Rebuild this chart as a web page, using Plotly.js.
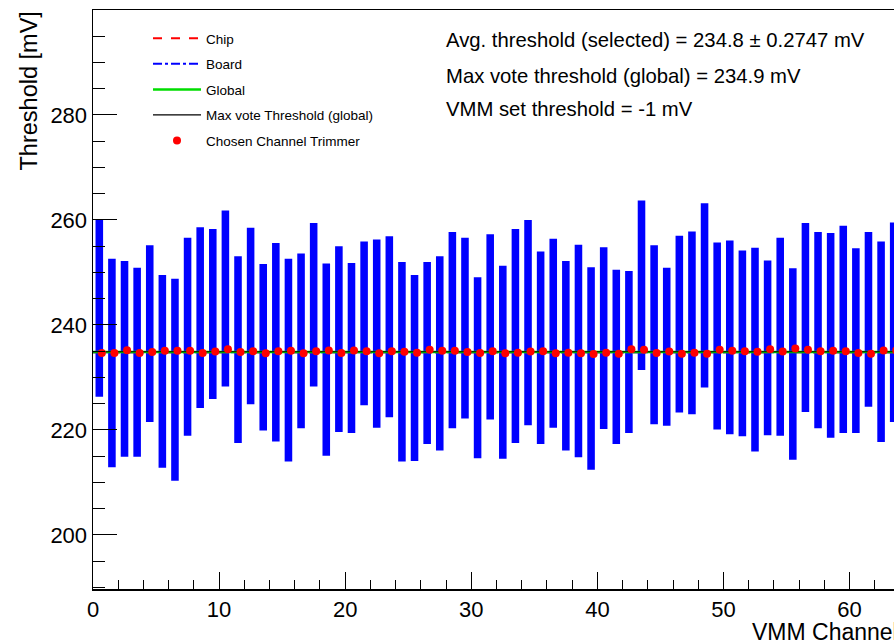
<!DOCTYPE html>
<html>
<head>
<meta charset="utf-8">
<script src="https://cdn.plot.ly/plotly-3.0.1.min.js"></script>
<style>
html, body { margin: 0; padding: 0; overflow: hidden; background: #fff; width: 894px; height: 642px; }
#chart { width: 910px; height: 642px; }
</style>
</head>
<body>
<div id="chart"></div>
<script>
// Channel numbers
const channels = Array.from({length: 64}, (_, i) => i);
// Per-channel threshold range (blue bars), mV
const rangeLow = [226.3,212.9,214.9,214.9,221.5,212.8,210.3,218.9,224.2,225.9,
  228.3,217.5,224.9,219.9,217.8,214.0,220.3,228.3,215.1,219.6,
  219.4,224.7,220.4,222.4,214.0,214.1,217.3,216.1,220.3,222.2,
  214.6,222.0,214.5,217.5,220.9,217.3,220.4,216.1,214.8,212.4,
  220.2,217.3,219.4,231.4,221.1,220.8,223.3,223.0,228.1,220.1,
  219.2,218.8,215.9,219.0,218.9,214.3,223.4,220.3,218.5,219.4,
  219.4,224.4,217.7,221.5];
const rangeHigh = [260.2,252.6,252.2,250.9,255.2,249.5,248.8,256.6,258.6,258.3,
  261.8,253.1,258.5,251.6,255.6,252.6,253.6,259.4,251.7,255.0,
  251.8,255.9,256.3,256.9,252.0,249.5,252.0,253.1,257.7,256.6,
  249.1,257.3,251.3,258.3,260.0,254.0,256.4,252.2,255.3,251.0,
  254.8,250.5,250.3,263.7,255.2,250.9,257.0,257.8,263.2,255.7,
  256.1,254.2,254.7,252.3,256.6,250.8,259.4,257.7,257.5,258.9,
  254.6,257.7,255.9,259.5];
// Chosen channel trimmer threshold, mV
const trimmer = [234.65,234.65,235.2,234.65,234.84,235.1,235.1,235.1,234.65,234.95,
  235.35,234.85,235.0,234.6,235.0,235.1,234.6,235.0,235.15,234.65,
  235.15,235.0,234.6,235.0,234.9,234.7,235.3,235.1,235.1,234.85,
  234.65,235.0,234.6,234.7,234.95,235.0,234.6,234.7,234.6,234.45,
  234.7,234.5,235.35,235.3,234.65,234.95,234.5,234.7,234.5,235.3,
  235.1,235.0,234.9,235.35,234.95,235.5,235.3,235.0,235.1,235.0,
  234.65,234.5,235.15,235.15];
// Reference levels, mV
const chipLevel = 234.8;
const boardLevel = 234.8;
const globalLevel = 234.86;
const maxVoteLevel = 234.9;
const xSpan = [0, 64];
const infoLines = [
  "Avg. threshold (selected) = 234.8 \u00b1 0.2747 mV",
  "Max vote threshold (global) = 234.9 mV",
  "VMM set threshold = -1 mV"
];

const FONT = '"Liberation Sans", Arial, Helvetica, sans-serif';

const barX = channels.map(c => c + 0.5);
const dotX = channels.map(c => c + 0.7);

const traces = [
  {
    type: 'bar', x: barX, base: rangeLow,
    y: rangeHigh.map((h, i) => h - rangeLow[i]),
    width: 0.6, marker: {color: '#0000ff', line: {width: 0}},
    showlegend: false, hoverinfo: 'skip'
  },
  {type: 'scatter', mode: 'lines', name: 'Chip', x: xSpan, y: [chipLevel, chipLevel],
   line: {color: '#ff0000', width: 2, dash: 'dash'}, legendgroup: 'a'},
  {type: 'scatter', mode: 'lines', name: 'Board', x: xSpan, y: [boardLevel, boardLevel],
   line: {color: '#0000ff', width: 2, dash: 'dashdot'}, legendgroup: 'b'},
  {type: 'scatter', mode: 'lines', name: 'Global', x: xSpan, y: [globalLevel, globalLevel],
   line: {color: '#00dd00', width: 2.5}, legendgroup: 'c'},
  {type: 'scatter', mode: 'lines', name: 'Max vote Threshold (global)', x: xSpan, y: [maxVoteLevel, maxVoteLevel],
   line: {color: '#000000', width: 1.2}, legendgroup: 'd'},
  {type: 'scatter', mode: 'markers', name: 'Chosen Channel Trimmer', x: dotX, y: trimmer,
   marker: {color: '#ff0000', size: 8}, legendgroup: 'e'}
];

const plotLeft = 93, plotTop = 10, plotBottom = 589, plotW = 807, plotH = 579;

const annotations = infoLines.map((t, k) => ({
  xref: 'paper', yref: 'paper', x: (444 - plotLeft) / plotW,
  y: (plotBottom - [40, 76, 109][k]) / plotH,
  xanchor: 'left', yanchor: 'middle', showarrow: false, text: t,
  font: {family: FONT, size: 20.3, color: '#000'}
}));
annotations.push({
  xref: 'paper', yref: 'paper', x: 1, y: 0, yshift: -43,
  xanchor: 'right', yanchor: 'middle', showarrow: false, text: 'VMM Channel',
  font: {family: FONT, size: 23, color: '#000'}
});
annotations.push({
  xref: 'paper', yref: 'paper', x: 0, xshift: -65, y: 1,
  xanchor: 'center', yanchor: 'top', showarrow: false, text: 'Threshold [mV]',
  textangle: -90, font: {family: FONT, size: 23.5, color: '#000'}
});

const layout = {
  width: 910, height: 642,
  margin: {l: plotLeft, r: 10, t: plotTop, b: 642 - plotBottom, pad: 0},
  paper_bgcolor: '#fff', plot_bgcolor: '#fff',
  font: {family: FONT, color: '#000'},
  showlegend: true,
  legend: {
    x: (148 - plotLeft) / plotW, y: (plotBottom - 23) / plotH, xanchor: 'left', yanchor: 'top',
    bgcolor: 'rgba(0,0,0,0)', borderwidth: 0, font: {family: FONT, size: 13.5, color: '#000'},
    itemwidth: 48, tracegroupgap: 5
  },
  xaxis: {
    range: [0, 64], showgrid: false, zeroline: false,
    showline: true, linecolor: '#000', linewidth: 1.5, mirror: true,
    ticks: 'inside', ticklen: 17, tickwidth: 1, tickcolor: '#000',
    tick0: 0, dtick: 10, tickfont: {family: FONT, size: 22, color: '#000'},
    minor: {ticks: 'inside', dtick: 2, ticklen: 9, tickwidth: 1, tickcolor: '#000', showgrid: false}
  },
  yaxis: {
    range: [189.7, 300], showgrid: false, zeroline: false,
    showline: true, linecolor: '#000', linewidth: 1.5, mirror: true,
    ticks: 'inside', ticklen: 24, tickwidth: 1, tickcolor: '#000',
    tick0: 200, dtick: 20, tickfont: {family: FONT, size: 22, color: '#000'},
    minor: {ticks: 'inside', dtick: 5, tick0: 200, ticklen: 12, tickwidth: 1, tickcolor: '#000', showgrid: false}
  },
  annotations: annotations
};

Plotly.newPlot('chart', traces, layout, {staticPlot: true, displayModeBar: false});
</script>
</body>
</html>
